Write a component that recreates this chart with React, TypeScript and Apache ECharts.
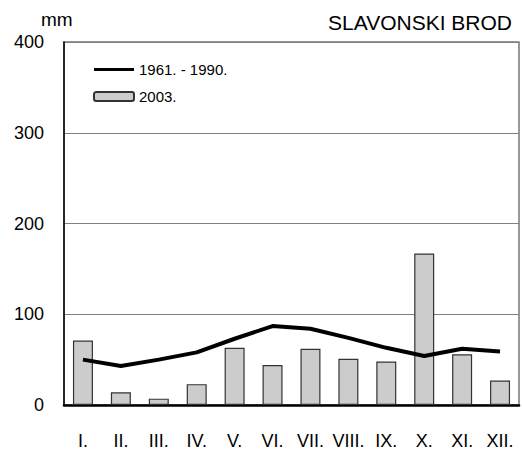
import React, { useEffect, useRef } from "react";
import * as echarts from "echarts";

const months = ["I.", "II.", "III.", "IV.", "V.", "VI.", "VII.", "VIII.", "IX.", "X.", "XI.", "XII."];
const values2003 = [71, 14, 7, 23, 63, 44, 62, 51, 48, 167, 56, 27];
const normals = [50, 43, 50, 58, 73, 87, 84, 74, 63, 54, 62, 59];
const yTicks = [0, 100, 200, 300, 400];

const FONT = "Liberation Sans, Arial, sans-serif";

export default function App() {
  const ref = useRef<HTMLDivElement>(null);
  useEffect(() => {
    if (!ref.current) return;
    const chart = echarts.init(ref.current, undefined, { renderer: "svg" });
    chart.setOption({
      animation: false,
      backgroundColor: "#ffffff",
      textStyle: { fontFamily: FONT, color: "#000" },
      title: {
        text: "SLAVONSKI BROD",
        right: 5,
        top: 7,
        textStyle: { fontSize: 21, fontWeight: "normal", color: "#000", fontFamily: FONT },
      },
      graphic: [
        {
          type: "text",
          left: 41,
          top: 10,
          style: { text: "mm", fontSize: 19, fill: "#000", fontFamily: FONT },
        },
      ],
      legend: {
        orient: "vertical",
        left: 93,
        top: 62,
        padding: 0,
        itemWidth: 40,
        itemHeight: 9,
        itemGap: 12,
        textStyle: { fontSize: 15, color: "#000", fontFamily: FONT },
        data: [
          {
            name: "1961. - 1990.",
            icon: "path://M0,0L0.01,0L0.01,0.01ZM0,9L0.01,9L0.01,8.99ZM0,2.9H40V6.1H0Z",
            itemStyle: { color: "#000", borderWidth: 0 },
          },
          { name: "2003." },
        ],
      },
      grid: {
        left: 64,
        right: 3,
        top: 42,
        bottom: 52,
        show: true,
        borderColor: "#777",
        borderWidth: 1.5,
      },
      xAxis: {
        type: "category",
        data: months,
        boundaryGap: true,
        axisLine: { lineStyle: { color: "#000", width: 2.5 } },
        axisTick: { show: false },
        axisLabel: { fontSize: 18, color: "#000", margin: 27, fontFamily: FONT, interval: 0 },
      },
      yAxis: {
        type: "value",
        min: yTicks[0],
        max: yTicks[yTicks.length - 1],
        interval: 100,
        axisLine: { show: true, lineStyle: { color: "#000", width: 1.5 } },
        axisTick: { show: false },
        axisLabel: { fontSize: 18, color: "#000", margin: 20, fontFamily: FONT },
        splitLine: { lineStyle: { color: "#808080", width: 1 } },
      },
      series: [
        {
          name: "2003.",
          type: "bar",
          data: values2003,
          barWidth: 20,
          itemStyle: { color: "#cccccc", borderColor: "#333", borderWidth: 1.2 },
        },
        {
          name: "1961. - 1990.",
          type: "line",
          data: normals,
          symbol: "none",
          lineStyle: { color: "#000", width: 4 },
          itemStyle: { color: "#000" },
        },
      ],
    });
    return () => chart.dispose();
  }, []);
  return <div ref={ref} style={{ position: "fixed", left: 0, top: 0, width: 522, height: 457 }} />;
}
